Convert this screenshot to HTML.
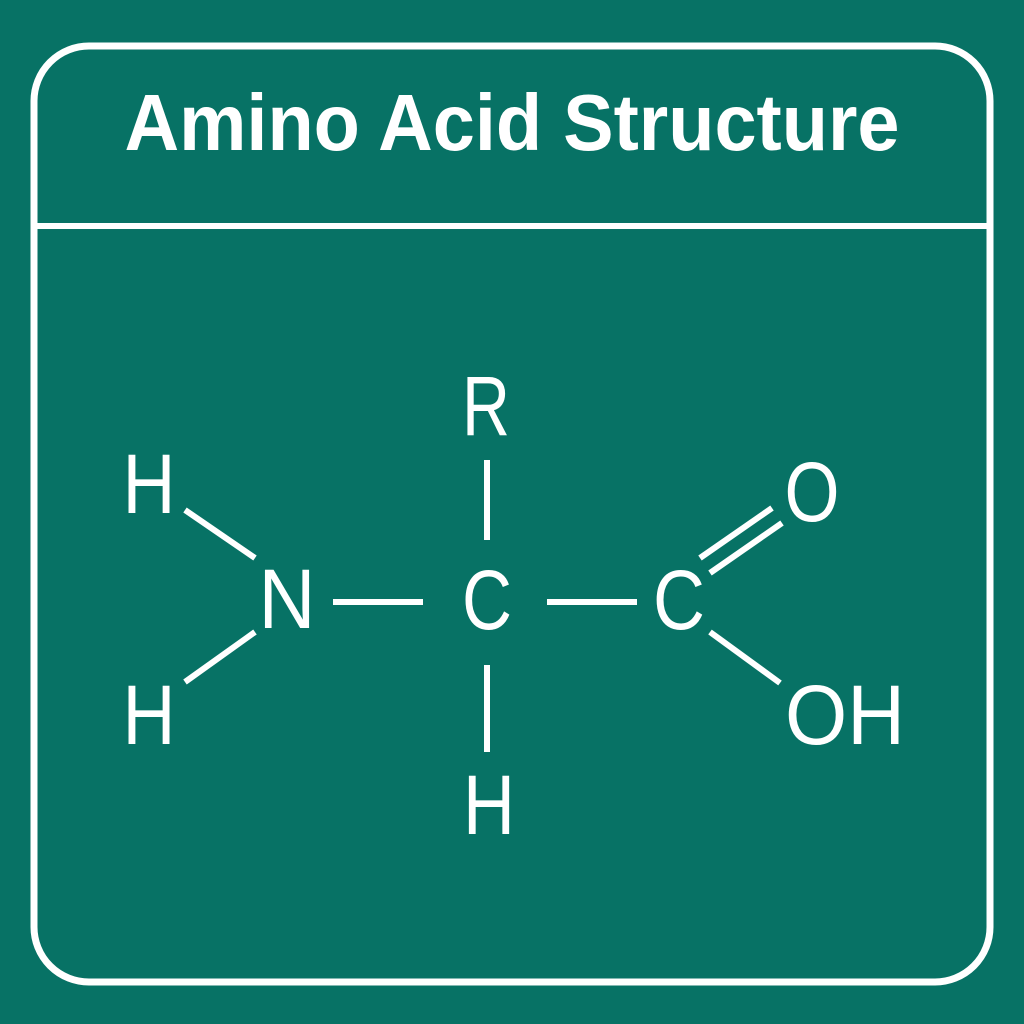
<!DOCTYPE html>
<html><head><meta charset="utf-8"><style>
html,body{margin:0;padding:0;background:#077265;}
svg{display:block}
</style></head><body>
<svg width="1024" height="1024" viewBox="0 0 1024 1024" xmlns="http://www.w3.org/2000/svg">
<rect width="1024" height="1024" fill="#077265"/>
<rect x="34" y="46" width="956" height="936" rx="55" ry="55" fill="none" stroke="#fff" stroke-width="7"/>
<line x1="34" y1="226" x2="990" y2="226" stroke="#fff" stroke-width="6"/>
<g font-family="Liberation Sans, sans-serif" fill="#fff">
<text x="512" y="150" font-size="80" font-weight="bold" text-anchor="middle" textLength="775" lengthAdjust="spacingAndGlyphs">Amino Acid Structure</text>
<g font-size="84">
<text x="149" y="513" text-anchor="middle" textLength="53" lengthAdjust="spacingAndGlyphs">H</text>
<text x="149" y="744" text-anchor="middle" textLength="53" lengthAdjust="spacingAndGlyphs">H</text>
<text x="287" y="628" text-anchor="middle" textLength="57" lengthAdjust="spacingAndGlyphs">N</text>
<text x="487" y="629" text-anchor="middle" textLength="50" lengthAdjust="spacingAndGlyphs">C</text>
<text x="679" y="629" text-anchor="middle" textLength="52" lengthAdjust="spacingAndGlyphs">C</text>
<text x="486" y="435" text-anchor="middle" textLength="48" lengthAdjust="spacingAndGlyphs">R</text>
<text x="489" y="834" text-anchor="middle" textLength="52" lengthAdjust="spacingAndGlyphs">H</text>
<text x="812" y="521" text-anchor="middle" textLength="55" lengthAdjust="spacingAndGlyphs">O</text>
<text x="845" y="744" text-anchor="middle" textLength="120" lengthAdjust="spacingAndGlyphs">OH</text>
</g>
</g>
<g stroke="#fff" stroke-width="6" stroke-linecap="butt">
<line x1="185" y1="510" x2="255" y2="558"/>
<line x1="185" y1="682" x2="255" y2="632"/>
<line x1="333" y1="602" x2="423" y2="602"/>
<line x1="547" y1="602" x2="637" y2="602"/>
<line x1="487" y1="460" x2="487" y2="540"/>
<line x1="487" y1="665" x2="487" y2="752"/>
<line x1="700" y1="558" x2="772" y2="508"/>
<line x1="710" y1="573" x2="782" y2="523"/>
<line x1="710" y1="632" x2="780" y2="683"/>
</g>
</svg>
</body></html>
